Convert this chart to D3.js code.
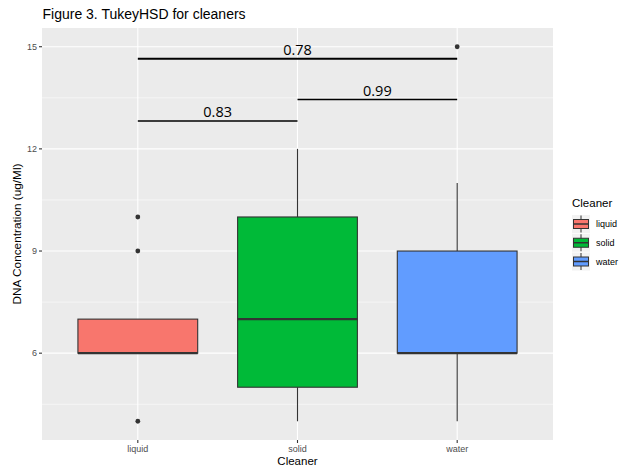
<!DOCTYPE html>
<html>
<head>
<meta charset="utf-8">
<script src="https://cdn.jsdelivr.net/npm/d3@7"></script>
<style>
  html, body { margin: 0; padding: 0; background: #fff; }
  svg { display: block; font-family: "Liberation Sans", Arial, Helvetica, sans-serif; }
</style>
</head>
<body>
<svg id="chart" width="622" height="470"></svg>
<script>
// Box summaries per cleaner
const categories  = ["liquid", "solid", "water"];
const fills       = ["#F8766D", "#00BA38", "#619CFF"];
const q1          = [6, 5, 6];
const median      = [6, 7, 6];
const q3          = [7, 10, 9];
const whiskerLow  = [6, 4, 4];
const whiskerHigh = [7, 12, 11];
const outliers    = [[4, 9, 10], [], [15]];

// Pairwise TukeyHSD p-values drawn as brackets
const pairFrom  = ["liquid", "solid", "liquid"];
const pairTo    = ["water", "water", "solid"];
const pValues   = ["0.78", "0.99", "0.83"];
const bracketAt = [14.65, 13.45, 12.82];

const yTicks      = [6, 9, 12, 15];
const yMinorTicks = [4.5, 7.5, 10.5, 13.5];

const svg = d3.select("#chart");
const panel = { left: 42, right: 553, top: 28, bottom: 440 };

const x = d3.scaleBand()
  .domain(categories)
  .range([panel.left, panel.right])
  .paddingInner(0)
  .paddingOuter(0.1);
const boxW = x.bandwidth() * 0.75;
const cx = c => x(c) + x.bandwidth() / 2;

const y = d3.scaleLinear()
  .domain([3.45, 15.55])
  .range([panel.bottom, panel.top]);

// Panel background and grid
svg.append("rect")
  .attr("x", panel.left).attr("y", panel.top)
  .attr("width", panel.right - panel.left).attr("height", panel.bottom - panel.top)
  .attr("fill", "#EBEBEB");

const grid = svg.append("g");
grid.selectAll(".minor").data(yMinorTicks).join("line")
  .attr("x1", panel.left).attr("x2", panel.right)
  .attr("y1", d => y(d)).attr("y2", d => y(d))
  .attr("stroke", "#fff").attr("stroke-width", 0.55);
grid.selectAll(".major").data(yTicks).join("line")
  .attr("x1", panel.left).attr("x2", panel.right)
  .attr("y1", d => y(d)).attr("y2", d => y(d))
  .attr("stroke", "#fff").attr("stroke-width", 1.1);
grid.selectAll(".vmajor").data(categories).join("line")
  .attr("x1", d => cx(d)).attr("x2", d => cx(d))
  .attr("y1", panel.top).attr("y2", panel.bottom)
  .attr("stroke", "#fff").attr("stroke-width", 1.1);

// Boxplots
const boxes = svg.append("g");
categories.forEach((c, i) => {
  const g = boxes.append("g");
  const xc = cx(c);
  g.append("line")
    .attr("x1", xc).attr("x2", xc)
    .attr("y1", y(q3[i])).attr("y2", y(whiskerHigh[i]))
    .attr("stroke", "#333").attr("stroke-width", 1.1);
  g.append("line")
    .attr("x1", xc).attr("x2", xc)
    .attr("y1", y(q1[i])).attr("y2", y(whiskerLow[i]))
    .attr("stroke", "#333").attr("stroke-width", 1.1);
  g.append("rect")
    .attr("x", xc - boxW / 2).attr("width", boxW)
    .attr("y", y(q3[i])).attr("height", y(q1[i]) - y(q3[i]))
    .attr("fill", fills[i]).attr("stroke", "#333").attr("stroke-width", 1.1);
  g.append("line")
    .attr("x1", xc - boxW / 2).attr("x2", xc + boxW / 2)
    .attr("y1", y(median[i])).attr("y2", y(median[i]))
    .attr("stroke", "#333").attr("stroke-width", 2.2);
  g.selectAll("circle").data(outliers[i]).join("circle")
    .attr("cx", xc).attr("cy", d => y(d)).attr("r", 2.4)
    .attr("fill", "#333");
});

// Comparison brackets
const br = svg.append("g");
pValues.forEach((p, i) => {
  const x1 = cx(pairFrom[i]), x2 = cx(pairTo[i]);
  const yy = y(bracketAt[i]);
  br.append("line")
    .attr("x1", x1).attr("x2", x2).attr("y1", yy).attr("y2", yy)
    .attr("stroke", "#000").attr("stroke-width", i === 0 ? 2 : 1.6);
  br.append("text")
    .attr("x", (x1 + x2) / 2).attr("y", yy - 4)
    .attr("text-anchor", "middle")
    .attr("font-family", "'Open Sans', 'Noto Sans', sans-serif")
    .attr("font-size", 14.5).attr("fill", "#000")
    .text(p);
});

// Y axis
const yAxis = svg.append("g");
yAxis.selectAll("line").data(yTicks).join("line")
  .attr("x1", panel.left - 3).attr("x2", panel.left)
  .attr("y1", d => y(d)).attr("y2", d => y(d))
  .attr("stroke", "#333").attr("stroke-width", 1.1);
yAxis.selectAll("text").data(yTicks).join("text")
  .attr("x", panel.left - 5).attr("y", d => y(d))
  .attr("dy", "0.35em").attr("text-anchor", "end")
  .attr("font-size", 9).attr("fill", "#4D4D4D")
  .text(d => d);

// X axis
const xAxis = svg.append("g");
xAxis.selectAll("line").data(categories).join("line")
  .attr("x1", d => cx(d)).attr("x2", d => cx(d))
  .attr("y1", panel.bottom).attr("y2", panel.bottom + 3)
  .attr("stroke", "#333").attr("stroke-width", 1.1);
xAxis.selectAll("text").data(categories).join("text")
  .attr("x", d => cx(d)).attr("y", panel.bottom + 12)
  .attr("text-anchor", "middle")
  .attr("font-size", 9).attr("fill", "#4D4D4D")
  .text(d => d);

// Titles
svg.append("text")
  .attr("x", 42.5).attr("y", 19)
  .attr("font-size", 14).attr("fill", "#000")
  .text("Figure 3. TukeyHSD for cleaners");
svg.append("text")
  .attr("x", (panel.left + panel.right) / 2).attr("y", 465)
  .attr("text-anchor", "middle")
  .attr("font-size", 11.5).attr("fill", "#000")
  .text("Cleaner");
svg.append("text")
  .attr("transform", `translate(21,${(panel.top + panel.bottom) / 2}) rotate(-90)`)
  .attr("text-anchor", "middle")
  .attr("font-size", 11.8).attr("fill", "#000")
  .text("DNA Concentration (ug/Ml)");

// Legend
const legend = svg.append("g").attr("transform", "translate(572,0)");
legend.append("text")
  .attr("x", 0).attr("y", 207)
  .attr("font-size", 11.5).attr("fill", "#000")
  .text("Cleaner");
const keyY = d3.scalePoint().domain(categories).range([224, 261.5]);
categories.forEach((c, i) => {
  const k = legend.append("g").attr("transform", `translate(0,${keyY(c) - 9})`);
  k.append("rect").attr("width", 18).attr("height", 18).attr("fill", "#F2F2F2");
  k.append("line").attr("x1", 9).attr("x2", 9).attr("y1", 0.5).attr("y2", 17.5)
    .attr("stroke", "#333").attr("stroke-width", 1);
  k.append("rect").attr("x", 1.5).attr("y", 4.5).attr("width", 15).attr("height", 9)
    .attr("fill", fills[i]).attr("stroke", "#333").attr("stroke-width", 1);
  k.append("line").attr("x1", 1.5).attr("x2", 16.5).attr("y1", 9).attr("y2", 9)
    .attr("stroke", "#333").attr("stroke-width", 1.5);
  legend.append("text")
    .attr("x", 24).attr("y", keyY(c)).attr("dy", "0.35em")
    .attr("font-size", 9).attr("fill", "#000")
    .text(c);
});
</script>
</body>
</html>
